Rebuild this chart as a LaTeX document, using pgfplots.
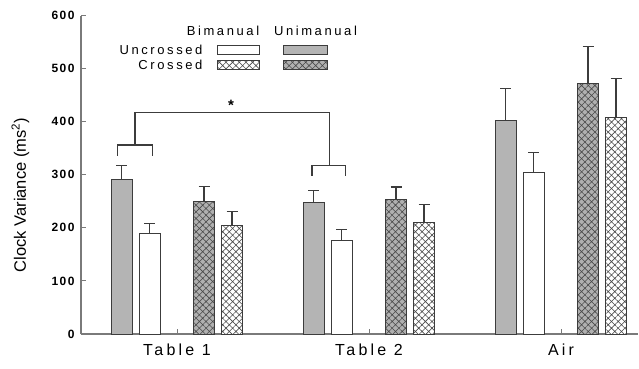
\documentclass[border=0pt]{standalone}
\usepackage{pgfplots}
\pgfplotsset{compat=1.18}
\usetikzlibrary{patterns.meta}
\usepackage{fontspec}
\setmainfont{Liberation Sans}
\newfontfamily\spaced[LetterSpace=20]{Liberation Sans}
\newfontfamily\tickfont[LetterSpace=12]{Liberation Sans}
\definecolor{barfill}{HTML}{B4B4B4}
\definecolor{hatchfill}{HTML}{B0B0B0}
\definecolor{hatchline}{HTML}{4A4A4A}
\definecolor{edge}{HTML}{3C3C3C}
\definecolor{axisgray}{HTML}{7A7A7A}
\tikzset{hatch/.style={pattern={Hatch[angle=45, distance=4.7pt, line width=0.6pt]}, pattern color=hatchline}}
\begin{document}
\begin{tikzpicture}
\path[use as bounding box] (0,0) rectangle (639pt,368pt);
\begin{axis}[
  at={(81pt,34pt)}, anchor=south west,
  scale only axis, width=556.8pt, height=318.5pt,
  xmin=-0.5, xmax=2.4, ymin=0, ymax=600,
  ybar, bar width=21pt,
  axis x line*=bottom, axis y line*=left,
  axis line style={axisgray, line width=1.1pt, -},
  xtick={0,1,2}, xticklabels={Table 1, Table 2, Air},
  ytick={0,100,...,600},
  tick align=inside, major tick length=5pt,
  tick style={axisgray, line width=1pt},
  xticklabel style={font=\spaced\fontsize{16}{16}\selectfont, yshift=-6pt},
  yticklabel style={font=\tickfont\bfseries\fontsize{12}{12}\selectfont, xshift=-3pt},
  /pgf/number format/assume math mode=true,
  ylabel={Clock Variance (ms\textsuperscript{2})},
  ylabel style={font=\fontsize{16.5}{16.5}\selectfont, at={(axis description cs:-0.109,0.436)}, anchor=center},
  clip=false,
  error bars/y dir=plus, error bars/y explicit,
  error bars/error bar style={edge, line width=1.1pt},
  error bars/error mark options={rotate=90, edge, mark size=5.5pt, line width=1.1pt},
  every axis plot/.append style={draw=edge, line width=1pt},
]
% Unimanual uncrossed (gray)
\addplot[fill=barfill, bar shift=-55.5pt] coordinates {
  (0,291) +- (0,26)
  (1,247) +- (0,24)
  (2,403) +- (0,60)
};
% Bimanual uncrossed (white)
\addplot[fill=white, bar shift=-27.5pt] coordinates {
  (0,190) +- (0,18)
  (1,177) +- (0,20)
  (2,304) +- (0,38)
};
% Unimanual crossed (gray hatch)
\addplot[preaction={fill=hatchfill}, hatch, bar shift=27pt] coordinates {
  (0,250) +- (0,28)
  (1,254) +- (0,23)
  (2,471) +- (0,70)
};
% Bimanual crossed (white hatch)
\addplot[preaction={fill=white}, hatch, bar shift=55pt] coordinates {
  (0,205) +- (0,25)
  (1,210) +- (0,34)
  (2,407) +- (0,75)
};
% significance bracket
\draw[edge, line width=1.1pt] (axis cs:-0.309,336) -- (axis cs:-0.309,356) -- (axis cs:-0.129,356) -- (axis cs:-0.129,336);
\draw[edge, line width=1.1pt] (axis cs:-0.219,356) -- (axis cs:-0.219,418) -- (axis cs:0.793,418) -- (axis cs:0.793,317);
\draw[edge, line width=1.1pt] (axis cs:0.703,298) -- (axis cs:0.703,317) -- (axis cs:0.879,317) -- (axis cs:0.879,298);
\node[font=\bfseries\fontsize{15}{15}\selectfont] at (axis cs:0.281,430) {*};
\end{axis}
% legend
\node[font=\spaced\fontsize{13}{13}\selectfont] at (223pt,337pt) {Bimanual};
\node[font=\spaced\fontsize{13}{13}\selectfont] at (315.5pt,337pt) {Unimanual};
\node[font=\spaced\fontsize{13}{13}\selectfont, anchor=east] at (206pt,318pt) {Uncrossed};
\node[font=\spaced\fontsize{13}{13}\selectfont, anchor=east] at (206pt,303.5pt) {Crossed};
\draw[edge, line width=1pt, fill=white] (217pt,314pt) rectangle (259pt,322.3pt);
\draw[edge, line width=1pt, fill=barfill] (283pt,314pt) rectangle (327pt,322.3pt);
\draw[edge, line width=1pt, preaction={fill=white}, hatch] (217pt,299pt) rectangle (259pt,308pt);
\draw[edge, line width=1pt, preaction={fill=hatchfill}, hatch] (283pt,299pt) rectangle (327pt,308pt);
\end{tikzpicture}
\end{document}
